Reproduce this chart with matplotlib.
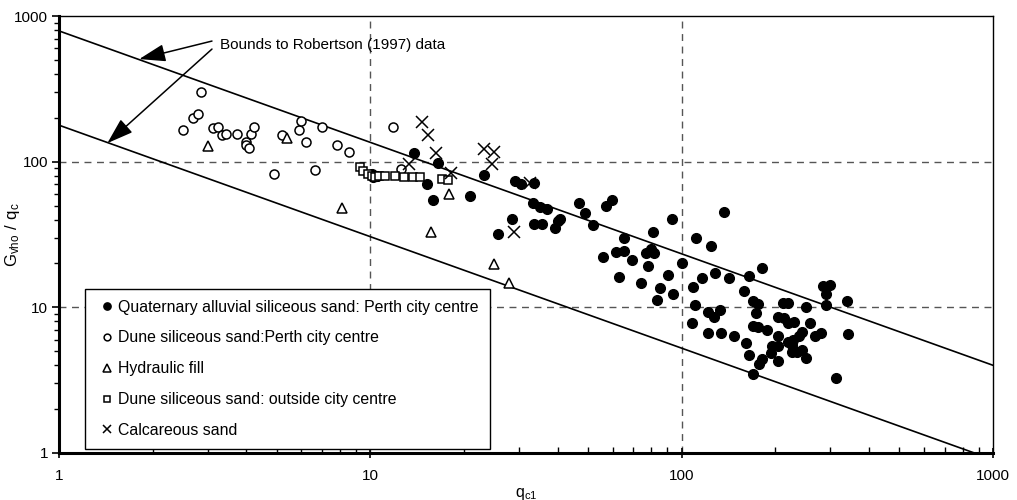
import matplotlib
matplotlib.use("Agg")
import matplotlib.pyplot as plt
from matplotlib.ticker import LogLocator, NullFormatter

plt.rcParams["font.family"] = ["Liberation Sans", "DejaVu Sans"]

# DATA ------------------------------------------------------------------
# Quaternary alluvial siliceous sand: Perth city centre
quat_q = [10.1, 10.2, 10.5, 13.8, 16.5, 15.2, 15.9, 20.9, 23.2, 25.7,
          29.2, 30.4, 33.6, 33.2, 35.1, 37.0, 28.6, 33.6, 35.5, 40.7,
          40.2, 39.1, 46.9, 48.9, 51.8, 57.1, 59.6, 65.4, 61.5, 55.8,
          65.4, 62.8, 69.3, 73.9, 78.0, 80.7, 76.8, 79.7, 81.7, 85.0,
          83.2, 90.6, 93.8, 92.9, 100, 111, 124, 137, 116.5, 108.7,
          110, 108, 121.5, 126.7, 132.8, 121.5, 133.8, 128.3, 141.6, 147.3,
          161, 164.2, 158.9, 164.2, 180.7, 169.1, 175.5, 173.3, 169.1, 175.5,
          187.6, 169.9, 177.2, 181.1, 193.2, 204, 195.5, 204, 204, 204,
          213.2, 220, 229.5, 212, 219, 220, 225.7, 228.4, 237.6, 243,
          225.7, 235.2, 243, 250.8, 258.4, 250.8, 268.1, 279.7, 285.1, 299.6,
          290.9, 290.9, 338.9, 343, 313.3]
quat_g = [82, 79, 80, 114, 98, 70, 54.5, 58, 80.5, 31.8,
          73.6, 70, 71.6, 52, 48.6, 47.5, 40.4, 37.5, 37.5, 40.4,
          39.1, 35.2, 51.7, 44.2, 36.7, 49.6, 54.5, 30, 24.1, 22.2,
          24.5, 16.1, 21.1, 14.8, 19.2, 32.7, 23.7, 25.2, 23.7, 13.6,
          11.3, 16.7, 12.4, 40.2, 20, 29.8, 26.5, 45.3, 16, 13.9,
          10.3, 7.84, 9.33, 8.58, 9.58, 6.66, 6.66, 17.2, 16, 6.35,
          5.66, 4.71, 13, 16.4, 18.6, 11.1, 10.6, 9.18, 7.47, 7.29,
          6.95, 3.48, 4.08, 4.4, 4.83, 4.3, 5.42, 5.42, 6.38, 8.62,
          8.4, 7.84, 7.96, 10.76, 10.76, 5.8, 5.51, 5.96, 6.35, 6.8,
          4.96, 4.96, 5.09, 4.47, 7.84, 10.1, 6.35, 6.63, 14, 14.3,
          12.3, 10.3, 11.1, 6.56, 3.26]

# Dune siliceous sand: Perth city centre
dune_q = [2.5, 2.7, 2.8, 2.85, 3.13, 3.25, 3.35, 3.44, 3.74, 3.99,
          4.0, 4.08, 4.13, 4.22, 4.9, 5.19, 5.9, 6.0, 6.2, 6.64,
          7.0, 7.83, 8.54, 11.8, 12.5]
dune_g = [165, 198, 212, 299, 169, 172, 153, 156, 156, 137,
          130, 125, 156, 172, 82, 153, 165, 189, 137, 88,
          172, 131, 116, 174, 88.5]

# Hydraulic fill
fill_q = [3.0, 5.4, 8.1, 17.9, 15.7, 25.0, 27.8]
fill_g = [128, 145, 48, 60, 33, 19.7, 14.8]

# Dune siliceous sand: outside city centre
out_q = [9.27, 9.45, 9.85, 10.1, 10.35, 10.7, 11.15, 12.0, 12.8, 13.7,
         14.4, 17.0, 17.7]
out_g = [92, 86.6, 82, 79.6, 79, 80, 80, 80, 78.4, 78.4,
         78.4, 76.3, 74.7]

# Calcareous sand
calc_q = [14.7, 15.3, 16.3, 13.3, 18.1, 23.1, 25.0, 24.6, 32.6, 29.0]
calc_g = [186, 152, 114, 96, 84, 123, 117, 97, 71, 33]

# Bounds to Robertson (1997) data
bound_q = [1, 1000]
upper_g = [790, 4.0]
lower_g = [178, 0.9]

# PLOT ------------------------------------------------------------------
fig = plt.figure(figsize=(10.17, 5.0), dpi=100)
ax = fig.add_axes([59 / 1017, 47 / 500, 934 / 1017, 437 / 500])

ax.set_xscale("log")
ax.set_yscale("log")
ax.set_xlim(1, 1000)
ax.set_ylim(1, 1000)

ax.plot(bound_q, upper_g, color="black", lw=1.2, zorder=2)
ax.plot(bound_q, lower_g, color="black", lw=1.2, zorder=2)

ax.plot(quat_q, quat_g, "o", ms=7, color="black", ls="none",
        label="Quaternary alluvial siliceous sand: Perth city centre", zorder=3)
ax.plot(dune_q, dune_g, "o", ms=6.5, mfc="white", mec="black", mew=1.1, ls="none",
        label="Dune siliceous sand:Perth city centre", zorder=3)
ax.plot(fill_q, fill_g, "^", ms=7.5, mfc="white", mec="black", mew=1.1, ls="none",
        label="Hydraulic fill", zorder=3)
ax.plot(out_q, out_g, "s", ms=6, mfc="white", mec="black", mew=1.1, ls="none",
        label="Dune siliceous sand: outside city centre", zorder=3)
ax.plot(calc_q, calc_g, "x", ms=8, color="black", mew=1.1, ls="none",
        label="Calcareous sand", zorder=3)

# dashed grid on the decades only
for v in [10, 100]:
    ax.axvline(v, color="#555555", lw=1, ls=(0, (5, 4)), zorder=1)
    ax.axhline(v, color="#555555", lw=1, ls=(0, (5, 4)), zorder=1)

# axes styling
for side in ["left", "bottom"]:
    ax.spines[side].set_linewidth(2.2)
for side in ["top", "right"]:
    ax.spines[side].set_linewidth(1.0)

ax.xaxis.set_minor_locator(LogLocator(base=10, subs=range(2, 10)))
ax.yaxis.set_minor_locator(LogLocator(base=10, subs=range(2, 10)))
ax.xaxis.set_minor_formatter(NullFormatter())
ax.yaxis.set_minor_formatter(NullFormatter())
ax.set_xticks([1, 10, 100, 1000])
ax.set_xticklabels(["1", "10", "100", "1000"])
ax.set_yticks([1, 10, 100, 1000])
ax.set_yticklabels(["1", "10", "100", "1000"])

ax.tick_params(axis="x", which="major", direction="inout", length=7, width=1.2, labelsize=11, pad=8)
ax.tick_params(axis="x", which="minor", direction="in", length=4, width=1)
ax.tick_params(axis="y", which="major", direction="out", length=5, width=1.2, labelsize=11, pad=3)
ax.tick_params(axis="y", which="minor", direction="out", length=3.5, width=1)

ax.set_xlabel(r"$\mathregular{q_{c1}}$", fontsize=11.5, labelpad=2)
ax.set_ylabel(r"$\mathregular{G_{vho}\ /\ q_c}$", fontsize=12)
ax.yaxis.set_label_coords(-0.04, 0.5)

# annotation with two arrows to the bound lines
ax.text(3.3, 630, "Bounds to Robertson (1997) data", fontsize=11, va="center", ha="left")
arrow = dict(arrowstyle="-|>,head_length=0.9,head_width=0.3", color="black",
             lw=1.1, mutation_scale=18, shrinkA=0, shrinkB=0)
ax.annotate("", xy=(1.81, 506), xytext=(3.1, 673), arrowprops=arrow)
ax.annotate("", xy=(1.43, 134), xytext=(3.1, 593), arrowprops=arrow)

leg = ax.legend(loc="lower left", bbox_to_anchor=(0.028, 0.009), fontsize=11.4,
                frameon=True, fancybox=False, edgecolor="black", framealpha=1,
                handlelength=1.35, handletextpad=0.05, labelspacing=1.0,
                borderpad=0.7, borderaxespad=0, markerscale=0.75)
leg.get_frame().set_linewidth(1.0)

fig.savefig("out.png", dpi=100)
